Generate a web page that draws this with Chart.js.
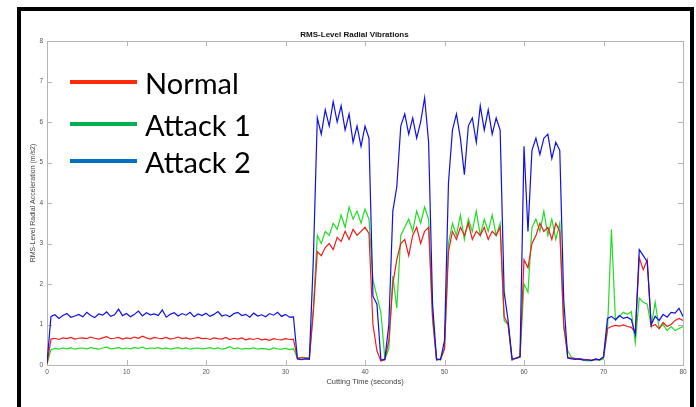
<!DOCTYPE html>
<html>
<head>
<meta charset="utf-8">
<script src="https://cdn.jsdelivr.net/npm/chart.js@4"></script>
<style>
	html, body { margin: 0; padding: 0; background: #fff; }
	#wrap { position: relative; width: 696px; height: 407px; overflow: hidden; }
	#frame {
		position: absolute; left: 17px; top: 7px; width: 677px; height: 430px;
		box-sizing: border-box; border: 4px solid #000; pointer-events: none;
	}
	.legendItem { position: absolute; left: 70px; height: 40px; }
	.legendItem span.swatch { position: absolute; left: 0; width: 67px; height: 4px; }
	.legendItem span.label {
		position: absolute; left: 75px; font-family: "Lato", "Open Sans", sans-serif;
		font-size: 29px; color: #000; white-space: nowrap; line-height: 1;
	}
</style>
</head>
<body>
<div id="wrap">
	<canvas id="chart" width="696" height="407"></canvas>
	<div id="frame"></div>
	<div id="legend"></div>
</div>
<script>
// samples every 0.5 s from 0 to 80 s
const seriesNames = ["Normal", "Attack 1", "Attack 2"];
const lineColors = ["#ee1c1c", "#22dd22", "#1010e0"];
const legendColors = ["#ff2a0a", "#00b050", "#0070c0"];
const xTickValues = [0, 10, 20, 30, 40, 50, 60, 70, 80];
const yTickValues = [0, 1, 2, 3, 4, 5, 6, 7, 8];

const normal = [
	0.02, 0.64, 0.66, 0.63, 0.67, 0.65, 0.68, 0.64, 0.66, 0.67,
	0.65, 0.69, 0.66, 0.64, 0.67, 0.70, 0.65, 0.66, 0.68, 0.64,
	0.67, 0.65, 0.69, 0.66, 0.71, 0.67, 0.64, 0.68, 0.66, 0.65,
	0.68, 0.64, 0.66, 0.69, 0.65, 0.67, 0.64, 0.66, 0.68, 0.65,
	0.66, 0.63, 0.67, 0.65, 0.64, 0.68, 0.63, 0.66, 0.64, 0.67,
	0.62, 0.65, 0.63, 0.66, 0.62, 0.64, 0.61, 0.65, 0.63, 0.62,
	0.65, 0.63, 0.64, 0.16, 0.18, 0.17, 0.16, 1.30, 2.80, 2.70,
	2.90, 3.00, 2.85, 3.15, 3.05, 3.30, 3.10, 3.35, 3.20, 3.30,
	3.40, 3.25, 1.00, 0.35, 0.10, 0.13, 0.60, 2.00, 2.60, 3.00,
	3.10, 2.70, 3.20, 3.40, 3.00, 3.30, 3.40, 1.20, 0.12, 0.14,
	0.40, 2.80, 3.30, 3.10, 3.40, 3.20, 3.50, 3.10, 3.30, 3.20,
	3.40, 3.10, 3.30, 3.20, 3.40, 1.20, 1.00, 0.13, 0.18, 0.20,
	2.60, 2.40, 3.00, 3.20, 3.50, 3.30, 3.40, 3.10, 3.50, 3.30,
	1.00, 0.18, 0.17, 0.16, 0.15, 0.14, 0.13, 0.12, 0.14, 0.13,
	0.20, 0.90, 0.95, 0.98, 0.96, 0.99, 0.95, 0.93, 0.80, 2.65,
	2.35, 2.60, 0.95, 1.00, 0.90, 1.05, 0.95, 1.00, 1.10, 1.15,
	1.10,
];

const attack1 = [
	0.02, 0.38, 0.41, 0.39, 0.42, 0.40, 0.43, 0.39, 0.41, 0.42,
	0.40, 0.43, 0.41, 0.39, 0.42, 0.44, 0.40, 0.41, 0.43, 0.40,
	0.42, 0.40, 0.43, 0.41, 0.44, 0.40, 0.42, 0.41, 0.43, 0.40,
	0.42, 0.39, 0.41, 0.43, 0.40, 0.42, 0.39, 0.41, 0.42, 0.40,
	0.41, 0.43, 0.40, 0.42, 0.39, 0.41, 0.45, 0.40, 0.42, 0.39,
	0.41, 0.40, 0.42, 0.39, 0.41, 0.40, 0.38, 0.42, 0.40, 0.39,
	0.41, 0.38, 0.40, 0.17, 0.19, 0.18, 0.17, 1.40, 3.20, 3.00,
	3.30, 3.20, 3.50, 3.35, 3.70, 3.40, 3.90, 3.60, 3.80, 3.50,
	3.85, 3.60, 2.10, 1.70, 1.30, 0.15, 0.40, 2.20, 1.40, 3.20,
	3.40, 3.60, 3.30, 3.80, 3.50, 3.90, 3.60, 1.10, 0.13, 0.15,
	0.40, 3.00, 3.50, 3.20, 3.70, 3.10, 3.60, 3.30, 3.80, 3.20,
	3.60, 3.30, 3.70, 3.20, 3.50, 1.10, 1.00, 0.12, 0.17, 0.20,
	2.00, 1.80, 3.40, 3.60, 3.30, 3.80, 3.20, 3.60, 3.10, 3.50,
	0.90, 0.35, 0.18, 0.16, 0.14, 0.12, 0.10, 0.11, 0.13, 0.12,
	0.15, 0.85, 3.35, 1.10, 1.20, 1.30, 1.25, 1.32, 0.55, 1.65,
	1.55, 1.50, 0.95, 1.55, 0.90, 1.00, 0.85, 0.95, 0.85, 0.90,
	0.95,
];

const attack2 = [
	0.05, 1.20, 1.24, 1.15, 1.22, 1.27, 1.18, 1.21, 1.25, 1.19,
	1.30, 1.22, 1.17, 1.26, 1.23, 1.31, 1.20, 1.24, 1.38, 1.22,
	1.27, 1.19, 1.25, 1.33, 1.21, 1.29, 1.24, 1.26, 1.22, 1.36,
	1.18, 1.25, 1.29, 1.21, 1.27, 1.23, 1.30, 1.19, 1.26, 1.22,
	1.28, 1.20, 1.25, 1.32, 1.21, 1.24, 1.19, 1.27, 1.30, 1.22,
	1.25, 1.18, 1.28, 1.21, 1.24, 1.19, 1.27, 1.23, 1.30, 1.20,
	1.25, 1.18, 1.19, 0.15, 0.13, 0.15, 0.14, 2.60, 6.10, 5.70,
	6.30, 5.90, 6.50, 6.00, 6.40, 5.80, 6.20, 5.50, 5.90, 5.40,
	5.90, 5.60, 1.70, 1.50, 0.12, 0.14, 1.00, 3.80, 4.40, 5.90,
	6.20, 5.70, 6.10, 5.60, 6.00, 6.60, 5.50, 1.50, 0.15, 0.13,
	0.60, 4.50, 5.80, 6.20, 5.60, 4.70, 5.90, 6.10, 5.50, 6.40,
	5.80, 6.30, 5.70, 6.10, 5.80, 1.80, 1.10, 0.15, 0.16, 0.20,
	5.40, 3.30, 5.30, 5.60, 5.20, 5.60, 5.70, 5.10, 5.50, 5.30,
	1.60, 0.17, 0.15, 0.14, 0.15, 0.12, 0.13, 0.11, 0.15, 0.13,
	0.20, 1.15, 1.20, 1.12, 1.22, 1.15, 1.18, 1.12, 0.75, 2.85,
	2.70, 2.55, 1.00, 1.20, 1.10, 1.25, 1.18, 1.30, 1.28, 1.40,
	1.20,
];

const sampleStep = 0.5;
const toPoints = values => values.map((v, i) => ({ x: i * sampleStep, y: v }));

const tickFont = { family: "'Liberation Sans', Arial, sans-serif", size: 6.5 };

// MATLAB-like box with inward tick marks on all four sides
const axisBox = {
	id: "axisBox",
	beforeDatasetsDraw(chart) {
		const { ctx, chartArea: a, scales } = chart;
		ctx.save();
		ctx.strokeStyle = "#b4b4b4";
		ctx.lineWidth = 1;
		ctx.strokeRect(Math.round(a.left) + 0.5, Math.round(a.top) + 0.5, Math.round(a.width), Math.round(a.height));
		ctx.beginPath();
		xTickValues.forEach(v => {
			const px = Math.round(scales.x.getPixelForValue(v)) + 0.5;
			ctx.moveTo(px, a.bottom); ctx.lineTo(px, a.bottom - 5);
			ctx.moveTo(px, a.top); ctx.lineTo(px, a.top + 5);
		});
		yTickValues.forEach(v => {
			const py = Math.round(scales.y.getPixelForValue(v)) + 0.5;
			ctx.moveTo(a.left, py); ctx.lineTo(a.left + 5, py);
			ctx.moveTo(a.right, py); ctx.lineTo(a.right - 5, py);
		});
		ctx.stroke();
		ctx.restore();
	},
};

const seriesValues = [normal, attack1, attack2];
const drawOrder = [1, 2, 0];

const ctx = document.querySelector("#chart").getContext("2d");
const myChart = new Chart(ctx, {
	type: "line",
	data: {
		datasets: seriesValues.map((values, i) => ({
			label: seriesNames[i],
			data: toPoints(values),
			borderColor: lineColors[i],
			backgroundColor: lineColors[i],
			borderWidth: 1.2,
			pointRadius: 0,
			tension: 0,
			order: drawOrder[i],
		})),
	},
	options: {
		responsive: false,
		animation: false,
		devicePixelRatio: 1,
		layout: { padding: { left: 26, right: 13, top: 30, bottom: 0 } },
		plugins: {
			legend: { display: false },
			tooltip: { enabled: false },
			title: {
				display: true,
				text: "RMS-Level Radial Vibrations",
				color: "#111",
				font: { family: "'Liberation Sans', Arial, sans-serif", size: 8, weight: "bold" },
				padding: { top: 0, bottom: 1.4 },
			},
		},
		scales: {
			x: {
				type: "linear",
				min: 0,
				max: 80,
				grid: { display: false, drawTicks: false },
				border: { display: false },
				ticks: { stepSize: 10, font: tickFont, color: "#555", padding: 3, maxRotation: 0 },
				title: {
					display: true,
					text: "Cutting Time (seconds)",
					color: "#444",
					font: { family: "'Liberation Sans', Arial, sans-serif", size: 7.5 },
					padding: { top: 0, bottom: 21 },
				},
				afterFit: scale => { scale.height = 42; },
			},
			y: {
				min: 0,
				max: 8,
				grid: { display: false, drawTicks: false },
				border: { display: false },
				ticks: { stepSize: 1, font: tickFont, color: "#555", padding: 4 },
				title: {
					display: true,
					text: "RMS-Level Radial Acceleration (m/s2)",
					color: "#444",
					font: { family: "'Liberation Sans', Arial, sans-serif", size: 7 },
					padding: { top: 3, bottom: 0 },
				},
				afterFit: scale => { scale.width = 21; },
			},
		},
	},
	plugins: [axisBox],
});

// big legend drawn over the plot, as in the source figure
const legendTops = [82, 124, 161];
const legendBox = document.querySelector("#legend");
seriesNames.forEach((name, i) => {
	const item = document.createElement("div");
	item.className = "legendItem";
	item.style.top = `${legendTops[i] - 2}px`;
	item.innerHTML = `<span class="swatch" style="background:${legendColors[i]}"></span><span class="label" style="top:-12px">${name}</span>`;
	legendBox.appendChild(item);
});
</script>
</body>
</html>
